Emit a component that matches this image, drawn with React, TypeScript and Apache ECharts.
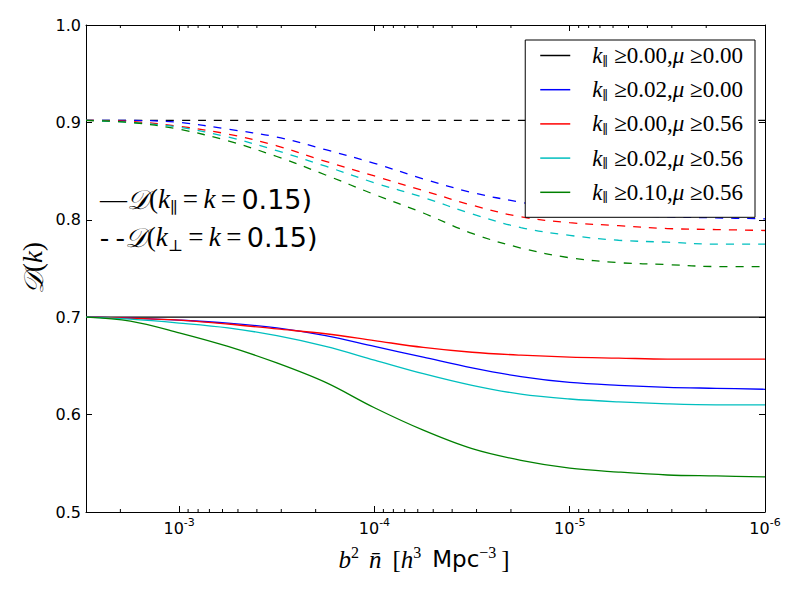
import React, { useEffect, useRef } from "react";
import * as echarts from "echarts";

// ---------- data ----------
// b^2 nbar sample points (quarter-decade steps)
const xValues = [3e-3, 1.778e-3, 1e-3, 5.623e-4, 3.162e-4, 1.778e-4, 1e-4, 5.623e-5, 3.162e-5, 1.778e-5, 1e-5, 5.623e-6, 3.162e-6, 1.778e-6, 1e-6];

const kParCuts = ["0.00", "0.02", "0.00", "0.02", "0.10"];
const muCuts = ["0.00", "0.00", "0.56", "0.56", "0.56"];
const colors = ["#000000", "#0000ff", "#ff0000", "#00bfbf", "#008000"];

// solid: D(k_par = k = 0.15)
const solidBlack = [0.700, 0.700, 0.700, 0.700, 0.700, 0.700, 0.700, 0.700, 0.700, 0.700, 0.700, 0.700, 0.700, 0.700, 0.700];
const solidBlue = [0.700, 0.699, 0.697, 0.694, 0.689, 0.681, 0.670, 0.659, 0.648, 0.639, 0.633, 0.630, 0.628, 0.627, 0.626];
const solidRed = [0.700, 0.699, 0.697, 0.693, 0.688, 0.683, 0.676, 0.669, 0.664, 0.661, 0.659, 0.658, 0.657, 0.657, 0.657];
const solidCyan = [0.700, 0.698, 0.694, 0.689, 0.681, 0.670, 0.656, 0.642, 0.630, 0.621, 0.616, 0.613, 0.611, 0.610, 0.610];
const solidGreen = [0.700, 0.696, 0.684, 0.670, 0.653, 0.633, 0.607, 0.584, 0.565, 0.553, 0.545, 0.541, 0.538, 0.537, 0.536];

// dashed: D(k_perp = k = 0.15)
const dashBlack = [0.902, 0.902, 0.902, 0.902, 0.902, 0.902, 0.902, 0.902, 0.902, 0.902, 0.902, 0.902, 0.902, 0.902, 0.902];
const dashBlue = [0.902, 0.902, 0.900, 0.893, 0.885, 0.872, 0.858, 0.842, 0.828, 0.818, 0.810, 0.805, 0.803, 0.802, 0.801];
const dashRed = [0.902, 0.901, 0.896, 0.888, 0.876, 0.860, 0.845, 0.830, 0.815, 0.803, 0.797, 0.794, 0.791, 0.790, 0.789];
const dashCyan = [0.902, 0.900, 0.895, 0.885, 0.871, 0.855, 0.838, 0.823, 0.806, 0.792, 0.784, 0.779, 0.777, 0.775, 0.775];
const dashGreen = [0.902, 0.900, 0.893, 0.881, 0.865, 0.846, 0.826, 0.807, 0.786, 0.771, 0.761, 0.756, 0.754, 0.752, 0.752];

const solidSets = [solidBlack, solidBlue, solidRed, solidCyan, solidGreen];
const dashSets = [dashBlack, dashBlue, dashRed, dashCyan, dashGreen];

// axis
const X_MIN = 1e-6;
const X_MAX = 3e-3;
const Y_MIN = 0.5;
const Y_MAX = 1.0;
const Y_STEP = 0.1;
const minorMantissas = [2, 3, 4, 5, 6, 7, 8, 9];
const minorDecades = [-6, -5, -4, -3];

const seriesNames = kParCuts.map((k, i) => `k∥≥${k},μ≥${muCuts[i]}`);

const SERIF = "'Liberation Serif', 'DejaVu Serif', serif";
const SANS = "'DejaVu Sans', sans-serif";
const MATH = "'DejaVu Serif', 'DejaVu Sans', 'Noto Sans', serif";
const TS = "\u2009";

export default function App() {
  const ref = useRef<HTMLDivElement>(null);

  useEffect(() => {
    if (!ref.current) return;
    const chart = echarts.init(ref.current, null, { renderer: "svg" });

    const minorTicks: number[] = [];
    minorDecades.forEach((d) =>
      minorMantissas.forEach((m) => {
        const v = m * Math.pow(10, d);
        if (v < X_MAX * 0.999) minorTicks.push(v);
      })
    );

    const xAxisBase: any = {
      type: "log",
      logBase: 10,
      min: X_MIN,
      max: X_MAX,
      inverse: true,
      axisLine: { show: true, onZero: false, lineStyle: { color: "#000", width: 1 } },
      axisTick: { show: true, inside: true, length: 6, lineStyle: { color: "#000", width: 1 } },
      splitLine: { show: false },
      minorTick: { show: false },
    };
    const yAxisBase: any = {
      type: "value",
      min: Y_MIN,
      max: Y_MAX,
      interval: Y_STEP,
      axisLine: { show: true, onZero: false, lineStyle: { color: "#000", width: 1 } },
      axisTick: { show: true, inside: true, length: 6, lineStyle: { color: "#000", width: 1 } },
      splitLine: { show: false },
    };

    const series: any[] = [];
    solidSets.forEach((vals, i) => {
      series.push({
        type: "line",
        name: seriesNames[i],
        data: xValues.map((x, j) => [x, vals[j]]),
        symbol: "none",
        showSymbol: false,
        smooth: 0.35,
        lineStyle: { color: colors[i], width: 1.3, type: "solid" },
        itemStyle: { color: colors[i] },
        z: 3,
      });
      series.push({
        type: "line",
        name: seriesNames[i] + " ⊥",
        data: xValues.map((x, j) => [x, dashSets[i][j]]),
        symbol: "none",
        showSymbol: false,
        smooth: 0.35,
        lineStyle: { color: colors[i], width: 1.3, type: [8, 8] },
        itemStyle: { color: colors[i] },
        z: 3,
      });
    });

    series.push({
      type: "custom",
      silent: true,
      clip: false,
      data: minorTicks.map((v) => [v, Y_MIN]),
      renderItem: (_p: any, api: any) => {
        const v = api.value(0);
        const b = api.coord([v, Y_MIN]);
        const t = api.coord([v, Y_MAX]);
        return {
          type: "group",
          children: [
            { type: "line", shape: { x1: b[0], y1: b[1], x2: b[0], y2: b[1] - 3 }, style: { stroke: "#000", lineWidth: 1 } },
            { type: "line", shape: { x1: t[0], y1: t[1], x2: t[0], y2: t[1] + 3 }, style: { stroke: "#000", lineWidth: 1 } },
          ],
        };
      },
      z: 5,
    });

    const FS = 27;
    const mathRich: any = {
      r: { fontFamily: SERIF, fontSize: FS, color: "#000", lineHeight: 32 },
      i: { fontFamily: SERIF, fontStyle: "italic", fontSize: FS, color: "#000", lineHeight: 32 },
      cal: { fontFamily: MATH, fontStyle: "italic", fontSize: FS, color: "#000", lineHeight: 32 },
      s: { fontFamily: SANS, fontSize: FS, color: "#000", lineHeight: 32 },
      sub: { fontFamily: MATH, fontSize: 16, color: "#000", lineHeight: 16, verticalAlign: "bottom" },
    };
    const xTitleRich: any = {
      r: { fontFamily: SERIF, fontSize: 25, color: "#000", lineHeight: 30 },
      i: { fontFamily: SERIF, fontStyle: "italic", fontSize: 25, color: "#000", lineHeight: 30 },
      s: { fontFamily: SANS, fontSize: 23, color: "#000", lineHeight: 30 },
      supi: { fontFamily: SERIF, fontSize: 16, color: "#000", lineHeight: 14, verticalAlign: "top" },
      g1: { width: 10, lineHeight: 30 },
      g2: { width: 11, lineHeight: 30 },
      g3: { width: 5, lineHeight: 30 },
    };

    const option: any = {
      animation: false,
      backgroundColor: "#fff",
      grid: { left: 86, right: 35, top: 25, bottom: 88, containLabel: false },
      xAxis: [
        {
          ...xAxisBase,
          position: "bottom",
          axisLabel: {
            show: true,
            margin: 5,
            color: "#000",
            fontFamily: SANS,
            fontSize: 16,
            lineHeight: 22,
            formatter: (v: number) => {
              const lg = Math.log10(v);
              const e = Math.round(lg);
              if (Math.abs(lg - e) > 1e-6) return "";
              return `10{sup|${e}}`;
            },
            rich: {
              sup: { fontFamily: SANS, fontSize: 11, lineHeight: 12, verticalAlign: "top", color: "#000" },
            },
          },
        },
        { ...xAxisBase, position: "top", axisLabel: { show: false } },
      ],
      yAxis: [
        {
          ...yAxisBase,
          position: "left",
          axisLabel: {
            show: true,
            margin: 5,
            color: "#000",
            fontFamily: SANS,
            fontSize: 16,
            formatter: (v: number) => v.toFixed(1),
          },
        },
        { ...yAxisBase, position: "right", axisLabel: { show: false } },
      ],
      legend: {
        data: seriesNames,
        orient: "vertical",
        right: 45,
        top: 40,
        icon: "rect",
        itemWidth: 30,
        itemHeight: 1.5,
        itemGap: 10.7,
        padding: [4, 12, 13, 15],
        borderColor: "#000",
        borderWidth: 1,
        borderRadius: 0,
        backgroundColor: "#fff",
        selectedMode: false,
        z: 10,
        formatter: (name: string) => {
          const i = seriesNames.indexOf(name);
          return `{gap|}{i|k}{sub|∥}{r| ≥${kParCuts[i]},}{i|μ}{r| ≥${muCuts[i]}}`;
        },
        textStyle: {
          color: "#000",
          rich: {
            gap: { width: 17, lineHeight: 24 },
            r: { fontFamily: SERIF, fontSize: 23, color: "#000", lineHeight: 24 },
            i: { fontFamily: SERIF, fontStyle: "italic", fontSize: 23, color: "#000", lineHeight: 24 },
            sub: { fontFamily: MATH, fontSize: 13, color: "#000", lineHeight: 12, verticalAlign: "bottom" },
          },
        },
      },
      graphic: [
        {
          type: "text",
          x: 33,
          y: 268,
          rotation: Math.PI / 2,
          style: {
            text: "{cal|𝒟}{r|(}{i|k}{r|)}",
            rich: mathRich,
            align: "center",
            verticalAlign: "middle",
          },
        },
        {
          type: "text",
          x: 424,
          y: 559,
          style: {
            text: "{i|b}{supi|2}{g1|}{i|n̄}{g2|}{r|[}{i|h}{supi|3}{g2|}{s|Mpc}{supi|−3}{g3|}{r|]}",
            rich: xTitleRich,
            align: "center",
            verticalAlign: "middle",
          },
        },
        {
          type: "text",
          x: 100,
          y: 199,
          style: {
            text: `{r|—}{cal|𝒟}{r|(}{i|k}{sub|∥}{r|${TS}=${TS}}{i|k}{r|${TS}=${TS}}{s|0.15)}`,
            rich: mathRich,
            align: "left",
            verticalAlign: "middle",
          },
        },
        {
          type: "text",
          x: 100,
          y: 237,
          style: {
            text: `{r|- -}{cal|𝒟}{r|(}{i|k}{sub|⊥}{r|${TS}=${TS}}{i|k}{r|${TS}=${TS}}{s|0.15)}`,
            rich: mathRich,
            align: "left",
            verticalAlign: "middle",
          },
        },
      ],
      series,
    };

    chart.setOption(option);
    return () => chart.dispose();
  }, []);

  return (
    <div
      ref={ref}
      style={{ position: "fixed", left: 0, top: 0, width: 800, height: 600, background: "#fff" }}
    />
  );
}
